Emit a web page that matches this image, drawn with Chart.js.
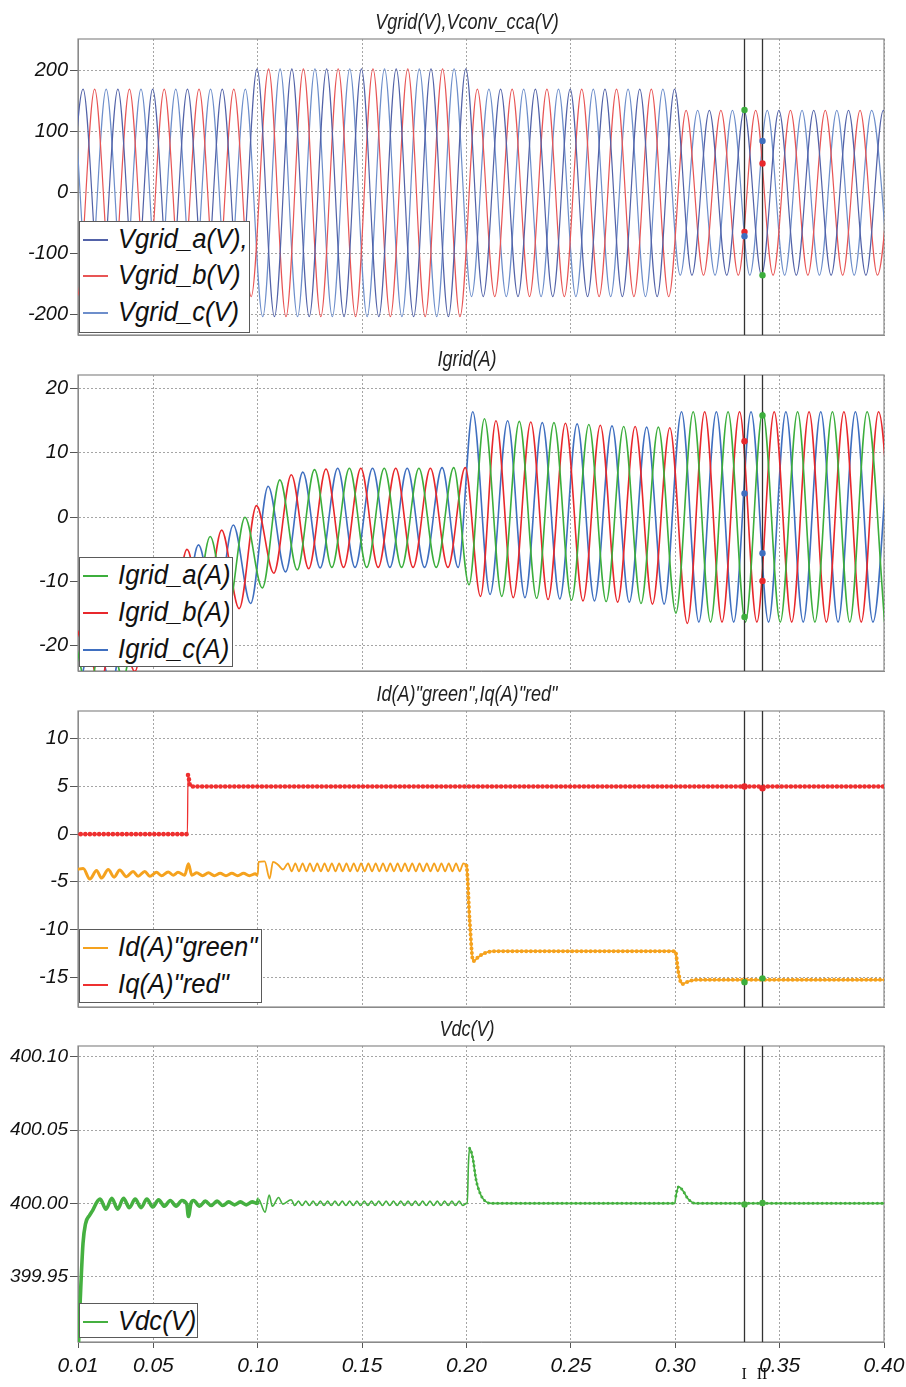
<!DOCTYPE html>
<html><head><meta charset="utf-8">
<script src="https://cdn.jsdelivr.net/npm/chart.js@4.4.1/dist/chart.umd.min.js"></script>
<style>
html,body{margin:0;padding:0;background:#fff;}
#wrap{position:relative;width:906px;height:1387px;overflow:hidden;background:#fff;}
canvas{position:absolute;left:0;}
.title{position:absolute;left:467px;font-family:'Liberation Sans',Arial,sans-serif;font-style:italic;font-size:22px;line-height:22px;color:#222;white-space:nowrap;transform:translateX(-50%) scaleX(0.82);}
.legend{position:absolute;left:79px;background:#fff;border:1px solid #5a5a5a;box-sizing:border-box;z-index:5;}
.legend .ln{position:absolute;left:3px;width:25px;height:1.5px;}
.legend .tx{position:absolute;left:38px;font-family:'Liberation Sans',Arial,sans-serif;font-style:italic;font-size:27px;line-height:27px;color:#111;white-space:nowrap;transform:scaleX(0.95);transform-origin:left center;}
.cur{position:absolute;top:1366px;font-family:'Liberation Serif','Times New Roman',serif;font-size:16px;line-height:16px;color:#111;transform:translateX(-50%);z-index:6;}
</style>
</head><body>
<div id="wrap">
  <canvas id="c1"></canvas><canvas id="c2"></canvas><canvas id="c3"></canvas><canvas id="c4"></canvas>
  <div class="title" style="top:11px">Vgrid(V),Vconv_cca(V)</div>
  <div class="title" style="top:348px">Igrid(A)</div>
  <div class="title" style="top:683px">Id(A)"green",Iq(A)"red"</div>
  <div class="title" style="top:1018px">Vdc(V)</div>
  <div class="legend" id="lg1" style="top:221px;width:171px;height:112px"></div>
  <div class="legend" id="lg2" style="top:557px;width:154px;height:110px"></div>
  <div class="legend" id="lg3" style="top:929px;width:183px;height:74px"></div>
  <div class="legend" id="lg4" style="top:1303px;width:119px;height:35px"></div>
</div>
<script>
// ================= DATA =================
const xTickValues = [0.0139, 0.05, 0.10, 0.15, 0.20, 0.25, 0.30, 0.35, 0.40];
const xTickLabels = ['0.01','0.05','0.10','0.15','0.20','0.25','0.30','0.35','0.40'];
const cursorTimes = [0.333, 0.3416];
const cursorLabels = ['I', 'II'];

// Vgrid: successive extrema of each phase, one every half period
const halfPeriod = 1 / 120;
const vgridStart = [0.0080, 0.0052, 0.0024];
const vgridA = [-170,170,-170,170,-170,170,-170,170,-170,170,-170,
  203,-203,203,-203,203,-203,203,-203,203,-203,203,-203,203,
  -170,170,-170,170,-170,170,-170,170,-170,170,-170,170,
  -135,135,-135,135,-135,135,-135,135,-135,135,-135,135,-135];
const vgridB = [170,-170,170,-170,170,-170,170,-170,170,-170,170,-170,
  203,-203,203,-203,203,-203,203,-203,203,-203,203,-203,
  170,-170,170,-170,170,-170,170,-170,170,-170,170,-170,
  135,-135,135,-135,135,-135,135,-135,135,-135,135,-135,135];
const vgridC = [-170,170,-170,170,-170,170,-170,170,-170,170,-170,170,
  -203,203,-203,203,-203,203,-203,203,-203,203,-203,203,
  -170,170,-170,170,-170,170,-170,170,-170,170,-170,170,
  -135,135,-135,135,-135,135,-135,135,-135,135,-135,135,-135];

// Igrid extrema (time s, value A)
const igTimesA = [0.0022,0.0106,0.0189,0.0272,0.0355,0.0439,0.0522,0.0606,0.0689,0.0772,0.0855,0.0939,0.1022,0.1106,0.1189,0.1272,0.1355,0.1439,0.1522,0.1606,0.1689,0.1772,0.1855,0.1939,0.2012,0.2086,0.2169,0.2253,0.2336,0.2419,0.2503,0.2586,0.2669,0.2753,0.2836,0.2919,0.3003,0.3086,0.3169,0.3253,0.3336,0.3419,0.3503,0.3586,0.3669,0.3753,0.3836,0.3919,0.4003];
const igA = [-26,-18,-27,-15.5,-25,-10.5,-21,-6.5,-17,-3.0,-15,0.0,-11,5.8,-8.2,7.4,-7.8,7.6,-7.8,7.6,-7.8,7.6,-7.8,7.7,-10.5,15.3,-12.3,14.9,-12.6,14.7,-12.9,14.4,-13.1,14.1,-13.4,14.0,-14.9,16.4,-16.3,16.4,-16.3,16.4,-16.3,16.4,-16.3,16.4,-16.3,16.4,-16.3];
const igTimesB = [0.0077,0.0161,0.0244,0.0327,0.0411,0.0494,0.0577,0.0661,0.0744,0.0827,0.0911,0.0994,0.1077,0.1161,0.1244,0.1327,0.1411,0.1494,0.1577,0.1661,0.1744,0.1827,0.1911,0.1994,0.2067,0.2141,0.2224,0.2308,0.2391,0.2474,0.2558,0.2641,0.2724,0.2808,0.2891,0.2974,0.3058,0.3141,0.3224,0.3308,0.3391,0.3474,0.3558,0.3641,0.3724,0.3808,0.3891,0.3974,0.4058];
const igB = [-27,-17,-26,-14,-24,-9,-20,-5,-16.5,-2.0,-14.2,1.8,-8.7,6.6,-8.0,7.5,-7.8,7.6,-7.8,7.6,-7.8,7.6,-7.8,7.7,-12.3,15.0,-12.5,14.8,-12.8,14.6,-13.0,14.3,-13.2,14.1,-13.5,13.9,-16.5,16.4,-16.3,16.4,-16.3,16.4,-16.3,16.4,-16.3,16.4,-16.3,16.4,-16.3];
const igTimesC = [0.0050,0.0133,0.0216,0.0299,0.0383,0.0466,0.0550,0.0633,0.0716,0.0799,0.0883,0.0966,0.1050,0.1133,0.1216,0.1299,0.1383,0.1466,0.1550,0.1633,0.1716,0.1799,0.1883,0.1960,0.2030,0.2113,0.2197,0.2280,0.2363,0.2447,0.2530,0.2613,0.2697,0.2780,0.2863,0.2947,0.3030,0.3113,0.3197,0.3280,0.3363,0.3447,0.3530,0.3613,0.3697,0.3780,0.3863,0.3947,0.4030];
const igC = [-19,-27,-17,-26,-12,-23,-7.5,-18,-4.3,-15.5,-1.2,-13.4,4.8,-8.5,7.0,-7.9,7.6,-7.8,7.6,-7.8,7.6,-7.8,7.7,-7.8,16.4,-12.0,15.0,-12.5,14.7,-12.7,14.5,-13.0,14.2,-13.2,14.0,-13.5,16.4,-16.3,16.4,-16.3,16.4,-16.3,16.4,-16.3,16.4,-16.3,16.4,-16.3,16.4];

// Id (A)
const idTimes1 = [0.0130,0.0164,0.0196,0.0228,0.0252,0.0284,0.0312,0.0339,0.0371,0.0403,0.0427,0.0459,0.0483,0.0515,0.0539,0.0571,0.0595,0.0618,0.0650,0.0668,0.0684,0.0708,0.0736,0.0764,0.0792,0.0820,0.0848,0.0876,0.0904,0.0932,0.0960,0.0988,0.1000,0.1004,0.1033,0.1057,0.1073,0.1097,0.1121,0.1145];
const idValues1 = [-3.7,-3.6,-4.7,-3.8,-4.6,-3.7,-4.5,-3.75,-4.45,-3.9,-4.4,-3.9,-4.4,-4.0,-4.35,-3.95,-4.3,-4.0,-4.3,-3.1,-4.3,-4.05,-4.35,-4.05,-4.35,-4.1,-4.35,-4.1,-4.35,-4.1,-4.35,-4.15,-4.3,-2.9,-2.85,-4.65,-2.9,-3.2,-3.7,-3.05];
const idRippleStart = 0.11625, rippleStep = 0.00175;
const idRipple = [-3.9,-3.05,-3.9,-3.05,-3.9,-3.05,-3.9,-3.05,-3.9,-3.05,-3.9,-3.05,-3.9,-3.05,-3.9,-3.05,-3.9,-3.05,-3.9,-3.05,-3.9,-3.05,-3.9,-3.05,-3.9,-3.05,-3.9,-3.05,-3.9,-3.05,-3.9,-3.05,-3.9,-3.05,-3.9,-3.05,-3.9,-3.05,-3.9,-3.05,-3.9,-3.05,-3.9,-3.05,-3.9,-3.05,-3.9,-3.05];
const idTimes2 = [0.2000,0.2015,0.2032,0.2060,0.2100,0.2150,0.3000,0.3015,0.3032,0.3060,0.3100,0.4050];
const idValues2 = [-3.3,-9.0,-13.3,-12.8,-12.35,-12.25,-12.25,-14.5,-15.7,-15.45,-15.25,-15.25];
// Iq (A)
const iqTimes = [0.0130,0.0663,0.0666,0.0676,0.0690,0.4050];
const iqValues = [0,0,6.2,5.1,5.0,5.0];

// Vdc (V)
const vdcTimes1 = [0.0135,0.0150,0.0163,0.0175,0.0195,0.0210,0.0230,0.0245,0.0273,0.0301,0.0329,0.0357,0.0385,0.0413,0.0441,0.0469,0.0497,0.0525,0.0553,0.0581,0.0609,0.0637,0.0660,0.0668,0.0680,0.0693,0.0721,0.0749,0.0777,0.0805,0.0833,0.0861,0.0889,0.0917,0.0945,0.0973,0.0998,0.1003,0.1035,0.1055,0.1070,0.1100,0.1120,0.1160];
const vdcValues1 = [399.880,399.935,399.9726,399.986,399.992,399.9954,400.001,400.003,399.996,400.0035,399.996,400.0035,399.997,400.003,399.997,400.003,399.9975,400.0025,399.998,400.002,399.998,400.002,399.9995,399.991,400.000,400.002,399.998,400.0015,399.9985,400.0015,399.9985,400.001,399.999,400.001,399.999,400.001,400.000,400.003,399.994,400.0057,399.998,400.004,399.9995,400.0025];
const vdcRippleStart = 0.11775;
const vdcRipple = [399.9985,400.0015,399.9985,400.0015,399.9985,400.0015,399.9985,400.0015,399.9985,400.0015,399.9985,400.0015,399.9985,400.0015,399.9985,400.0015,399.9985,400.0015,399.9985,400.0015,399.9985,400.0015,399.9985,400.0015,399.9985,400.0015,399.9985,400.0015,399.9985,400.0015,399.9985,400.0015,399.9985,400.0015,399.9985,400.0015,399.9985,400.0015,399.9985,400.0015,399.9985,400.0015,399.9985,400.0015,399.9985,400.0015,399.9985];
const vdcTimes2 = [0.2000,0.2004,0.2009,0.2015,0.2030,0.2046,0.2062,0.2078,0.2095,0.2120,0.2998,0.3003,0.3017,0.3035,0.3060,0.3078,0.3095,0.4050];
const vdcValues2 = [400.000,400.000,400.026,400.0377,400.031,400.016,400.008,400.0034,400.001,400.000,400.000,400.005,400.0114,400.009,400.0034,400.001,400.000,400.000];

// cursor read-outs (values at cursor I and II)
const vgridMarksI = [135.6, -64.0, -71.0], vgridMarksII = [85.0, 48.0, -135.0];
const igridMarksI = [11.8, 3.7, -15.5],   igridMarksII = [15.8, -5.6, -9.9];
const idqMarksI = [5.0, -15.5],            idqMarksII = [4.8, -15.1];
const vdcMarksI = [399.9993],              vdcMarksII = [400.0003];

// ================= STYLE / BUILD =================
const F = "'Liberation Sans', Arial, sans-serif";
const GREEN='#3cae3c', RED='#e8282c', BLUE='#3f6fc0';
const seq = (start, step, vals) => vals.map((v, i) => ({x: start + i * step, y: v}));
const pairs = (ts, vs) => ts.map((t, i) => ({x: t, y: vs[i]}));

const framePlugin = {
  id: 'frame',
  beforeDatasetsDraw(chart) {
    const {ctx, chartArea: a} = chart;
    ctx.save(); ctx.strokeStyle = '#8a8a8a'; ctx.lineWidth = 1.2;
    ctx.strokeRect(a.left, a.top, a.right - a.left, a.bottom - a.top);
    ctx.restore();
  }
};
const cursorPlugin = {
  id: 'cursors',
  afterDatasetsDraw(chart, args, opts) {
    const {ctx, chartArea: a, scales: {x, y}} = chart;
    ctx.save();
    cursorTimes.forEach((t, i) => {
      const px = Math.round(x.getPixelForValue(t)) + 0.5;
      ctx.strokeStyle = '#333'; ctx.lineWidth = 1.3;
      ctx.beginPath(); ctx.moveTo(px, a.top); ctx.lineTo(px, a.bottom); ctx.stroke();
      (opts.marks[i] || []).forEach((v, j) => {
        ctx.fillStyle = opts.colors[i][j];
        ctx.beginPath(); ctx.arc(px, y.getPixelForValue(v), 3.2, 0, Math.PI * 2); ctx.fill();
      });
    });
    ctx.restore();
  }
};

function line(data, color, width, extra) {
  return Object.assign({data, borderColor: color, borderWidth: width, pointRadius: 0,
    cubicInterpolationMode: 'monotone', fill: false}, extra || {});
}
function beads(data, color, size, gap, tMin) {
  return line(data, color, size, {
    borderDash: [0, gap], borderCapStyle: 'round',
    segment: {borderColor: c => (data[c.p0DataIndex].x < tMin || Math.abs(c.p1.x - c.p0.x) < 1.5) ? 'rgba(0,0,0,0)' : undefined}
  });
}

function panel(id, top, plotH, withX, yMin, yMax, yStep, yFmt, yFont, datasets, marks, colors) {
  const cv = document.getElementById(id);
  const padTop = 6, xH = withX ? 45 : 0, padBottom = withX ? 0 : 6;
  cv.width = 906; cv.height = padTop + plotH + xH + padBottom;
  cv.style.top = (top - padTop) + 'px';
  return new Chart(cv, {
    type: 'line',
    data: {datasets},
    options: {
      responsive: false, animation: false, devicePixelRatio: 1,
      parsing: false, normalized: true,
      layout: {padding: {left: 0, right: 22, top: padTop, bottom: padBottom}},
      plugins: {legend: {display: false}, title: {display: false}, tooltip: {enabled: false},
        cursors: {marks, colors}},
      scales: {
        x: {type: 'linear', min: xTickValues[0], max: xTickValues[xTickValues.length - 1],
          afterBuildTicks: s => { s.ticks = xTickValues.map(v => ({value: v})); },
          afterFit: s => { s.height = xH; s.paddingLeft = 0; s.paddingRight = 0; },
          ticks: {display: withX, autoSkip: false, maxRotation: 0, padding: 6, color: '#111',
            font: {family: F, size: 21, style: 'italic'}, callback: (v, i) => xTickLabels[i]},
          grid: {color: '#a5a5a5', lineWidth: 1, drawTicks: withX, tickLength: 6, tickColor: '#555', tickBorderDash: []},
          border: {display: true, color: '#8a8a8a', width: 1, dash: [2, 2]}
        },
        y: {type: 'linear', min: yMin, max: yMax,
          afterFit: s => { s.width = 78; s.paddingTop = 0; s.paddingBottom = 0; },
          ticks: {stepSize: yStep, includeBounds: false, padding: 2, color: '#111',
            font: {family: F, size: yFont, style: 'italic'}, callback: yFmt},
          grid: {color: '#a5a5a5', lineWidth: 1, drawTicks: true, tickLength: 8, tickColor: '#555', tickBorderDash: []},
          border: {display: true, color: '#8a8a8a', width: 1, dash: [2, 2]}
        }
      }
    },
    plugins: [framePlugin, cursorPlugin]
  });
}

// Panel 1: Vgrid
const vA = seq(vgridStart[0], halfPeriod, vgridA);
const vB = seq(vgridStart[1], halfPeriod, vgridB);
const vC = seq(vgridStart[2], halfPeriod, vgridC);
panel('c1', 39, 296, false, -233, 252, 100, v => String(v), 20,
  [line(vA, '#5262a8', 1.2), line(vB, '#e85555', 1.2), line(vC, '#6d8ecb', 1.2)],
  [vgridMarksI, vgridMarksII], [[GREEN, RED, BLUE], [BLUE, RED, GREEN]]);

// Panel 2: Igrid
panel('c2', 375, 296, false, -23.9, 22.1, 10, v => String(v), 20,
  [line(pairs(igTimesA, igA), GREEN, 1.6), line(pairs(igTimesB, igB), RED, 1.6), line(pairs(igTimesC, igC), BLUE, 1.6)],
  [igridMarksI, igridMarksII], [[RED, BLUE, GREEN], [GREEN, BLUE, RED]]);

// Panel 3: Id / Iq
const idData = pairs(idTimes1, idValues1).concat(seq(idRippleStart, rippleStep, idRipple), pairs(idTimes2, idValues2));
const iqData = pairs(iqTimes, iqValues);
const ORANGE = '#f5a21e';
panel('c3', 711, 296, false, -18.1, 12.9, 5, v => String(v), 20,
  [line(idData, ORANGE, 2, {segment: {borderWidth: c => idData[c.p0DataIndex].x < 0.1 ? 3 : 1.8}}),
   beads(idData, ORANGE, 4, 4.6, 0.2),
   line(iqData, '#ee3030', 1.3),
   beads(iqData, '#ee3030', 4.6, 4.6, 0)],
  [idqMarksI, idqMarksII], [[RED, GREEN], [RED, GREEN]]);

// Panel 4: Vdc
const vdcData = pairs(vdcTimes1, vdcValues1).concat(seq(vdcRippleStart, rippleStep, vdcRipple), pairs(vdcTimes2, vdcValues2));
const VGREEN = '#45b040';
panel('c4', 1046, 296, true, 399.9053, 400.1075, 0.05, v => v.toFixed(2), 19,
  [line(vdcData, VGREEN, 1.6, {segment: {borderWidth: c => vdcData[c.p0DataIndex].x < 0.1 ? 3.6 : 1.6}}),
   beads(vdcData, VGREEN, 3, 4.6, 0.2)],
  [vdcMarksI, vdcMarksII], [[VGREEN], [VGREEN]]);

// ================= LEGENDS (HTML text) =================
function legend(id, items, rows) {
  const el = document.getElementById(id);
  items.forEach((it, i) => {
    const ln = document.createElement('div'); ln.className = 'ln';
    ln.style.top = (rows[i] - 1) + 'px'; ln.style.background = it[1];
    const tx = document.createElement('div'); tx.className = 'tx';
    tx.style.top = (rows[i] - 14) + 'px'; tx.textContent = it[0];
    el.appendChild(ln); el.appendChild(tx);
  });
}
legend('lg1', [['Vgrid_a(V),', '#5262a8'], ['Vgrid_b(V)', '#e85555'], ['Vgrid_c(V)', '#6d8ecb']], [18, 54, 91]);
legend('lg2', [['Igrid_a(A)', GREEN], ['Igrid_b(A)', RED], ['Igrid_c(A)', BLUE]], [18, 55, 92]);
legend('lg3', [['Id(A)"green"', ORANGE], ['Iq(A)"red"', '#ee3030']], [18, 55]);
legend('lg4', [['Vdc(V)', VGREEN]], [18]);

// cursor names under the time axis
const wrap = document.getElementById('wrap');
const xs = Chart.getChart('c4').scales.x;
cursorTimes.forEach((t, i) => {
  const d = document.createElement('div'); d.className = 'cur';
  d.style.left = xs.getPixelForValue(t) + 'px'; d.textContent = cursorLabels[i];
  wrap.appendChild(d);
});
</script>
</body></html>
